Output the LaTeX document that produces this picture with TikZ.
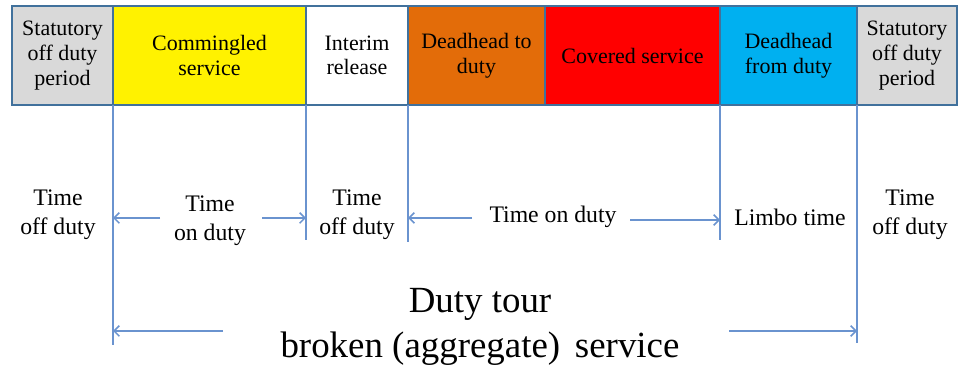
\documentclass[tikz,border=0pt]{standalone}
\usepackage{fontspec}
\setmainfont{Liberation Serif}
\newfontfamily\serifface{Liberation Serif}
\usepackage{xcolor}
\usetikzlibrary{arrows.meta}
\usetikzlibrary{positioning}

\definecolor{boxedge}{HTML}{41719C}
\definecolor{ruleblue}{HTML}{6A93CF}
\definecolor{offgray}{HTML}{D9D9D9}
\definecolor{dhorange}{HTML}{E36C09}
\definecolor{dhblue}{HTML}{00B0F0}

\tikzset{
    period/.style={draw=boxedge, line width=1pt, outer sep=0pt, inner sep=2pt,
        minimum height=1.98cm, align=center,
        font=\serifface\fontsize{12.5}{14}\selectfont},
    rule/.style={draw=ruleblue, line width=0.9pt},
    span/.style={rule, -{Straight Barb[length=3pt,width=6pt]}},
    timelabel/.style={align=center, font=\serifface\fontsize{13.5}{16.5}\selectfont}
}

\begin{document}
\begin{tikzpicture}
            \useasboundingbox (0,0) rectangle (19.2,7.46);

            % bar of periods
            \node[period, fill=offgray, minimum width=2.02cm] (stat1) at (1.25,6.35) {Statutory\\off duty\\period};
            \node[period, fill=yellow, minimum width=3.86cm, right=0pt of stat1] (comm) {Commingled\\service};
            \node[period, fill=white, minimum width=2.04cm, right=0pt of comm] (interim) {Interim\\release};
            \node[period, fill=dhorange, minimum width=2.74cm, right=0pt of interim] (dhto) {Deadhead to\\duty};
            \node[period, fill=red, minimum width=3.5cm, right=0pt of dhto] (covered) {Covered service};
            \node[period, fill=dhblue, minimum width=2.74cm, right=0pt of covered] (dhfrom) {Deadhead\\from duty};
            \node[period, fill=offgray, minimum width=2.0cm, right=0pt of dhfrom] (stat2) {Statutory\\off duty\\period};

            % boundaries
            \coordinate (b1) at (comm.south west |- 0,0.56);
            \coordinate (b2) at (interim.south west |- 0,2.66);
            \coordinate (b3) at (dhto.south west |- 0,2.62);
            \coordinate (b4) at (dhfrom.south west |- 0,2.66);
            \coordinate (b5) at (stat2.south west |- 0,0.6);
            \draw[rule] (comm.south west) -- (b1);
            \draw[rule] (interim.south west) -- (b2);
            \draw[rule] (dhto.south west) -- (b3);
            \draw[rule] (dhfrom.south west) -- (b4);
            \draw[rule] (stat2.south west) -- (b5);

            % labels
            \node[timelabel] (off1) at (1.16,3.16) {Time\\off duty};
            \node[timelabel] (on1) at (4.2,3.04) {Time\\on duty};
            \node[timelabel] (off2) at (7.14,3.16) {Time\\off duty};
            \node[timelabel] (on2) at (11.06,3.12) {Time on duty};
            \node[timelabel] (limbo) at (15.8,3.12) {Limbo time};
            \node[timelabel] (off3) at (18.2,3.16) {Time\\off duty};
            \node[align=center, font=\serifface\fontsize{21}{25.5}\selectfont] (tour) at (9.6,0.92) {Duty tour\\broken (aggregate)\hspace{0.15em} service};

            % spans
            \coordinate (s1) at (3.2,3.1);
            \coordinate (s2) at (5.24,3.1);
            \coordinate (s3) at (9.44,3.1);
            \coordinate (s4) at (12.6,3.06);
            \coordinate (s5) at (4.46,0.84);
            \coordinate (s6) at (14.58,0.84);
            \draw[span] (s1) -- (s1 -| b1);
            \draw[span] (s2) -- (s2 -| b2);
            \draw[span] (s3) -- (s3 -| b3);
            \draw[span] (s4) -- (s4 -| b4);
            \draw[span] (s5) -- (s5 -| b1);
            \draw[span] (s6) -- (s6 -| b5);
        \end{tikzpicture}
\end{document}
